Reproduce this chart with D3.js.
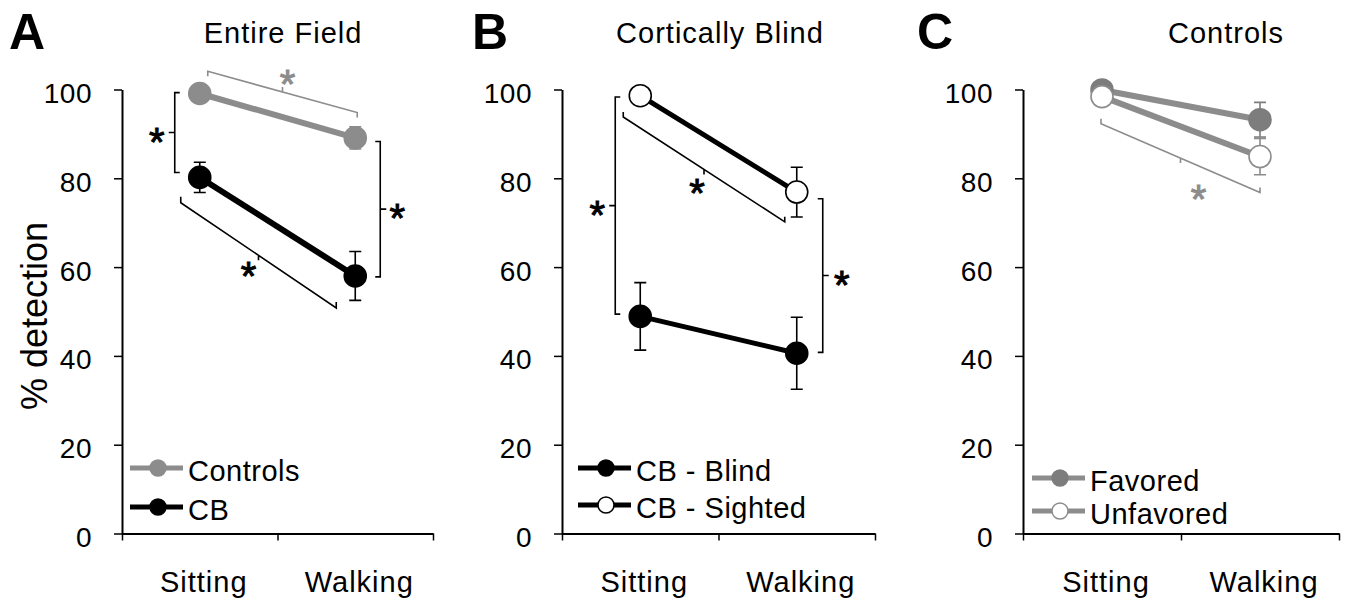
<!DOCTYPE html>
<html>
<head>
<meta charset="utf-8">
<script src="https://cdn.jsdelivr.net/npm/d3@7"></script>
<style>
  body { margin: 0; background: #fff; }
  svg text { font-family: "Liberation Sans", Arial, sans-serif; fill: #000; }
</style>
</head>
<body>
<svg id="chart" width="1350" height="602"></svg>
<script>
// categories and tick values
const conditions = ['Sitting', 'Walking'];
const yTicks = [0, 20, 40, 60, 80, 100];

// A - entire field
const controlsMean = [99.1, 89.1];
const controlsErr = [1.0, 2.5];
const cbMean = [80.2, 58.0];
const cbErr = [3.4, 5.5];

// B - cortically blind
const blindMean = [48.9, 40.6];
const blindErr = [7.6, 8.1];
const sightedMean = [98.6, 76.9];
const sightedErr = [0.8, 5.6];

// C - controls
const favoredMean = [99.9, 93.2];
const favoredErr = [0.8, 3.9];
const unfavoredMean = [98.4, 84.9];
const unfavoredErr = [1.0, 4.1];

const GRAY = '#8c8c8c';
const svg = d3.select('#chart');

const y = d3.scaleLinear().domain([0, 100]).range([533.5, 89.5]);

const panels = [
  {
    letter: 'A', letterX: 9, title: 'Entire Field', titleX: 283, left: 122, right: 433,
    lineWidth: 6,
    series: [
      { name: 'Controls', mean: controlsMean, err: controlsErr, line: GRAY, fill: GRAY, stroke: GRAY },
      { name: 'CB', mean: cbMean, err: cbErr, line: '#000', fill: '#000', stroke: '#000' }
    ],
    legend: { x: 130, ys: [468, 507] },
    brackets: [
      { kind: 'diag', a: ['Sitting', 8, 104.1], b: ['Walking', 2, 94.8], cap: 5, tick: -5, color: GRAY, star: [5, -17] },
      { kind: 'vert', cat: 'Sitting', dx: -25, v0: 99.3, v1: 81.3, cap: 5, star: -18 },
      { kind: 'diag', a: ['Sitting', -19, 74.5], b: ['Walking', -19, 50.8], cap: -6, tick: 5, color: '#000', star: [-10, 12] },
      { kind: 'vert', cat: 'Walking', dx: 25, v0: 88.3, v1: 57.8, cap: -5, star: 17 }
    ]
  },
  {
    letter: 'B', letterX: 472, title: 'Cortically Blind', titleX: 720, left: 562, right: 875,
    lineWidth: 5,
    series: [
      { name: 'CB - Blind', mean: blindMean, err: blindErr, line: '#000', fill: '#000', stroke: '#000' },
      { name: 'CB - Sighted', mean: sightedMean, err: sightedErr, line: '#000', fill: '#fff', stroke: '#000' }
    ],
    legend: { x: 578, ys: [468, 505] },
    brackets: [
      { kind: 'vert', cat: 'Sitting', dx: -25, v0: 98.3, v1: 49.4, cap: 5, star: -18 },
      { kind: 'diag', a: ['Sitting', -17, 93.8], b: ['Walking', -12, 70.2], cap: -5, tick: 5, color: '#000', star: [-7, 15] },
      { kind: 'vert', cat: 'Walking', dx: 26, v0: 75.4, v1: 40.8, cap: -5, star: 19 }
    ]
  },
  {
    letter: 'C', letterX: 917, title: 'Controls', titleX: 1226, left: 1023, right: 1339,
    lineWidth: 6,
    series: [
      { name: 'Favored', mean: favoredMean, err: favoredErr, line: GRAY, fill: '#7d7d7d', stroke: '#7d7d7d' },
      { name: 'Unfavored', mean: unfavoredMean, err: unfavoredErr, line: GRAY, fill: '#fff', stroke: GRAY }
    ],
    legend: { x: 1032, ys: [478, 511] },
    brackets: [
      { kind: 'diag', a: ['Sitting', -1, 92.3], b: ['Walking', 0, 76.8], cap: -5, tick: 5, color: GRAY, star: [18, 32] }
    ]
  }
];

function star(g, x, yc, color) {
  g.append('text')
    .attr('x', x)
    .attr('y', yc + 23)
    .attr('text-anchor', 'middle')
    .style('font-size', '40px')
    .style('fill', color)
    .style('stroke', color)
    .style('stroke-width', 1)
    .text('*');
}

panels.forEach(p => {
  const g = svg.append('g');
  const x = d3.scaleBand().domain(conditions).range([p.left, p.right]);
  const cx = c => x(c) + x.bandwidth() / 2;

  // panel letter and title
  g.append('text')
    .attr('x', p.letterX).attr('y', 49)
    .style('font-size', '50px').style('font-weight', 'bold')
    .text(p.letter);
  g.append('text')
    .attr('x', p.titleX).attr('y', 43)
    .attr('text-anchor', 'middle')
    .style('font-size', '29px').style('letter-spacing', '1px')
    .text(p.title);

  // y axis
  const yAxis = g.append('g')
    .attr('transform', `translate(${p.left},0)`)
    .call(d3.axisLeft(y).tickValues(yTicks).tickSize(8).tickSizeOuter(0).tickPadding(22));
  yAxis.select('.domain').attr('stroke', '#000').attr('stroke-width', 2);
  yAxis.selectAll('.tick line').attr('stroke', '#000').attr('stroke-width', 1.5);
  yAxis.selectAll('.tick text')
    .attr('dy', null).attr('y', 13)
    .style('font-size', '28px').style('letter-spacing', '0.5px')
    .style('font-family', '"Liberation Sans", Arial, sans-serif');

  // x axis: ticks on band boundaries
  const xb = d3.scaleLinear().domain([0, 2]).range([p.left, p.right]);
  const xAxis = g.append('g')
    .attr('transform', `translate(0,${y(0)})`)
    .call(d3.axisBottom(xb).ticks(2).tickSize(7).tickSizeOuter(0).tickFormat(''));
  xAxis.select('.domain').attr('stroke', '#000').attr('stroke-width', 2);
  xAxis.selectAll('.tick line').attr('stroke', '#000').attr('stroke-width', 1.5);

  g.selectAll('.xlabel')
    .data(conditions)
    .enter().append('text')
    .attr('x', d => cx(d) + 4)
    .attr('y', y(0) + 58)
    .attr('text-anchor', 'middle')
    .style('font-size', '29px').style('letter-spacing', '1px')
    .text(d => d);

  // brackets
  p.brackets.forEach(b => {
    if (b.kind === 'vert') {
      const bx = cx(b.cat) + b.dx;
      const y0 = y(b.v0), y1 = y(b.v1), ym = (y0 + y1) / 2;
      const dir = b.cap > 0 ? -1 : 1;
      g.append('path')
        .attr('d', `M${bx + b.cap},${y0}H${bx}V${y1}H${bx + b.cap}M${bx},${ym}H${bx + dir * 6}`)
        .attr('fill', 'none').attr('stroke', '#000').attr('stroke-width', 1.6);
      star(g, bx + b.star, ym, '#000');
    } else {
      const x0 = cx(b.a[0]) + b.a[1], y0 = y(b.a[2]);
      const x1 = cx(b.b[0]) + b.b[1], y1 = y(b.b[2]);
      const xm = (x0 + x1) / 2, ym = (y0 + y1) / 2;
      g.append('path')
        .attr('d', `M${x0},${y0 + b.cap}L${x0},${y0}L${x1},${y1}L${x1},${y1 + b.cap}M${xm},${ym}L${xm},${ym + b.tick}`)
        .attr('fill', 'none').attr('stroke', b.color).attr('stroke-width', 1.6);
      star(g, xm + b.star[0], ym + b.star[1], b.color);
    }
  });

  const line = d3.line().x((d, i) => cx(conditions[i])).y(d => y(d));

  // error bars
  p.series.forEach(s => {
    const eb = g.append('g');
    s.mean.forEach((m, i) => {
      const ex = cx(conditions[i]);
      eb.append('path')
        .attr('d', `M${ex},${y(m - s.err[i])}V${y(m + s.err[i])}M${ex - 6},${y(m + s.err[i])}h12M${ex - 6},${y(m - s.err[i])}h12`)
        .attr('fill', 'none').attr('stroke', s.stroke).attr('stroke-width', 1.6);
    });
  });

  // lines and markers
  p.series.forEach(s => {
    g.append('path')
      .datum(s.mean)
      .attr('d', line)
      .attr('fill', 'none')
      .attr('stroke', s.line)
      .attr('stroke-width', p.lineWidth);
  });
  p.series.forEach(s => {
    g.selectAll(null)
      .data(s.mean)
      .enter().append('circle')
      .attr('cx', (d, i) => cx(conditions[i]))
      .attr('cy', d => y(d))
      .attr('r', 11)
      .attr('fill', s.fill)
      .attr('stroke', s.stroke)
      .attr('stroke-width', 1.6);
  });

  // legend
  p.series.forEach((s, i) => {
    const ly = p.legend.ys[i];
    const lg = g.append('g');
    lg.append('line')
      .attr('x1', p.legend.x).attr('x2', p.legend.x + 53)
      .attr('y1', ly).attr('y2', ly)
      .attr('stroke', s.line).attr('stroke-width', 5);
    lg.append('circle')
      .attr('cx', p.legend.x + 28).attr('cy', ly).attr('r', 8)
      .attr('fill', s.fill).attr('stroke', s.stroke).attr('stroke-width', 1.5);
    lg.append('text')
      .attr('x', p.legend.x + 58).attr('y', ly + 13)
      .style('font-size', '29px').style('letter-spacing', '0.5px')
      .text(s.name);
  });
});

// shared y label
svg.append('text')
  .attr('transform', 'translate(47,316) rotate(-90)')
  .attr('text-anchor', 'middle')
  .style('font-size', '36px')
  .text('% detection');
</script>
</body>
</html>
